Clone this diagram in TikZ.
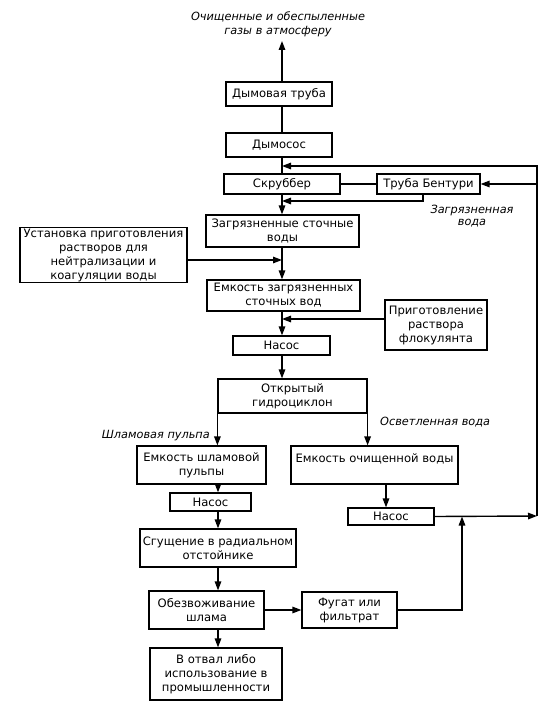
\documentclass[tikz,border=0pt]{standalone}
\usepackage{fontspec}
\usetikzlibrary{arrows.meta}
\newfontfamily\dvsans{DejaVu Sans}
\newcommand\boxfont{\dvsans\fontsize{11.6}{14}\selectfont}
\newcommand\lblfont{\dvsans\itshape\fontsize{11.3}{12.5}\selectfont}
\begin{document}
\begin{tikzpicture}[x=1pt,y=-1pt,
  box/.style={draw, line width=1.2pt, inner sep=1pt, align=center, font=\boxfont},
  flow/.style={line width=1.4pt, -{Triangle[length=9pt,width=6.5pt]}},
  plain/.style={line width=1.4pt},
  lbl/.style={font=\lblfont, align=center, inner sep=0pt}]
\useasboundingbox (0,0) rectangle (554,708);
% helper coordinates
\coordinate (mx) at (282,0);
\coordinate (lx) at (218,0);
\coordinate (ex) at (386,0);
\coordinate (fx) at (462,0);
\coordinate (out) at (282,41);
\coordinate (R1) at (537,166);
\coordinate (RB) at (537,516);
\coordinate (bx) at (423,201);
\coordinate (uy) at (0,260);
\coordinate (py) at (0,319);
% labels
\node[lbl] (t1) at (278,17) {Очищенные и обеспыленные};
\node[lbl] (t2) at (278,32) {газы в атмосферу};
\node[lbl] (zv) at (472,216) {Загрязненная\\вода};
\node[lbl, anchor=east] (sp) at (210,436) {Шламовая пульпа};
\node[lbl, anchor=west] (ov) at (380,422) {Осветленная вода};
% boxes
\node[box, minimum width=106pt, minimum height=24pt] (dt) at (279,94) {Дымовая труба};
\node[box, minimum width=106pt, minimum height=24pt] (ds) at (279,145) {Дымосос};
\node[box, minimum width=116pt, minimum height=20pt] (scr) at (282,184) {Скруббер};
\node[box, minimum width=103pt, minimum height=20pt] (bent) at (428.5,184) {Труба Бентури};
\node[box, minimum width=153pt, minimum height=32pt] (zsv) at (282.5,231) {Загрязненные сточные\\воды};
\node[box, minimum width=167pt, minimum height=54pt] (ust) at (103.5,255) {Установка приготовления\\растворов для\\нейтрализации и\\коагуляции воды};
\node[box, minimum width=153pt, minimum height=31pt] (ezs) at (283.5,295.5) {Емкость загрязненных\\сточных вод};
\node[box, minimum width=102pt, minimum height=50pt] (prig) at (436,325) {Приготовление\\раствора\\флокулянта};
\node[box, minimum width=97pt, minimum height=19pt] (nas1) at (281.5,345.5) {Насос};
\node[box, minimum width=149pt, minimum height=34pt] (gc) at (292.5,396) {Открытый\\гидроциклон};
\node[box, minimum width=129pt, minimum height=38pt] (esp) at (201.5,465) {Емкость шламовой\\пульпы};
\node[box, minimum width=167pt, minimum height=38pt] (eov) at (374.5,465) {Емкость очищенной воды\\\mbox{}};
\node[box, minimum width=81pt, minimum height=18pt] (nas2) at (210.5,502) {Насос};
\node[box, minimum width=86pt, minimum height=17pt] (nas3) at (391,516.5) {Насос};
\node[box, minimum width=156pt, minimum height=38pt] (sg) at (218,548) {Сгущение в радиальном\\отстойнике};
\node[box, minimum width=115pt, minimum height=38pt] (obz) at (206.5,610) {Обезвоживание\\шлама};
\node[box, minimum width=95pt, minimum height=36pt] (fug) at (349.5,610) {Фугат или\\фильтрат};
\node[box, minimum width=132pt, minimum height=52pt] (otv) at (216,674) {В отвал либо\\использование в\\промышленности};
% connectors
\draw[flow] (dt.north -| mx) -- (out);
\draw[plain] (ds.north -| mx) -- (dt.south -| mx);
\draw[plain] (scr.north -| mx) -- (ds.south -| mx);
\draw[plain] (scr.east) -- (bent.west);
\draw[flow] (nas3.east) -- (RB);
\draw[flow] (RB) -- (R1) -- (R1 -| mx);
\draw[flow] (bent.east -| RB) -- (bent.east);
\draw[flow] (bent.south -| bx) -- (bx) -- (bx -| mx);
\draw[flow] (scr.south -| mx) -- (zsv.north -| mx);
\draw[flow] (zsv.south -| mx) -- (ezs.north -| mx);
\draw[flow] (ust.east |- uy) -- (uy -| mx);
\draw[flow] (ezs.south -| mx) -- (nas1.north -| mx);
\draw[flow] (prig.west |- py) -- (py -| mx);
\draw[flow] (nas1.south -| mx) -- (gc.north -| mx);
\draw[flow] (gc.south west) -- (gc.south west |- esp.north);
\draw[flow] (gc.south east) -- (gc.south east |- eov.north);
\draw[flow] (esp.south -| lx) -- (nas2.north -| lx);
\draw[flow] (nas2.south -| lx) -- (sg.north -| lx);
\draw[flow] (sg.south -| lx) -- (obz.north -| lx);
\draw[flow] (obz.south -| lx) -- (otv.north -| lx);
\draw[flow] (obz.east) -- (fug.west);
\draw[flow] (fug.east) -- (fug.east -| fx) -- (fx |- nas3.east);
\draw[flow] (eov.south -| ex) -- (nas3.north -| ex);
\end{tikzpicture}
\end{document}
